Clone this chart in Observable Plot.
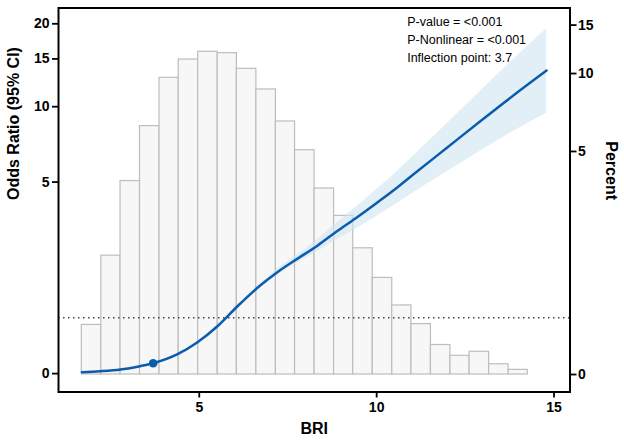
<!DOCTYPE html>
<html>
<head>
<meta charset="utf-8">
<script src="https://cdn.jsdelivr.net/npm/d3@7"></script>
<script src="https://cdn.jsdelivr.net/npm/@observablehq/plot@0.6"></script>
<style>
  html, body { margin: 0; padding: 0; background: white; }
  #chart { position: relative; width: 624px; height: 445px; }
  #chart svg { position: absolute; left: 0; top: 0; }
</style>
</head>
<body>
<div id="chart"></div>
<script>
// Histogram of BRI (bin edges) and percent of participants per bin
const briBinEdges = [1.69, 2.24, 2.78, 3.33, 3.88, 4.42, 4.97, 5.52, 6.06, 6.61, 7.16, 7.70, 8.25, 8.80, 9.34, 9.89, 10.44, 10.98, 11.53, 12.08, 12.62, 13.17, 13.72, 14.26];
const percent = [0.51, 1.64, 3.76, 6.31, 9.64, 11.26, 12.02, 11.88, 10.41, 8.72, 6.58, 5.06, 3.49, 2.62, 1.80, 1.21, 0.77, 0.52, 0.28, 0.17, 0.21, 0.09, 0.04];

// Restricted cubic spline: odds ratio with 95% CI
const briCurve = [1.69, 2.2, 2.78, 3.33, 3.7, 4.39, 4.95, 5.52, 6.07, 6.64, 7.2, 7.76, 8.33, 8.89, 9.46, 10.02, 10.58, 11.05, 11.99, 12.93, 13.87, 14.79];
const orFit  = [0.016, 0.028, 0.049, 0.089, 0.126, 0.244, 0.413, 0.668, 1.018, 1.406, 1.774, 2.126, 2.508, 2.982, 3.486, 4.066, 4.738, 5.410, 6.946, 8.820, 11.06, 13.61];
const orLow  = [0.011, 0.022, 0.043, 0.084, 0.126, 0.236, 0.402, 0.652, 0.999, 1.368, 1.695, 2.013, 2.329, 2.702, 3.086, 3.524, 4.024, 4.505, 5.542, 6.724, 8.068, 9.447];
const orHigh = [0.022, 0.034, 0.055, 0.094, 0.126, 0.251, 0.424, 0.684, 1.037, 1.440, 1.850, 2.239, 2.695, 3.282, 3.920, 4.667, 5.542, 6.449, 8.627, 11.446, 14.985, 19.20];

const inflection = {bri: 3.7, or: 0.126};
const refLine = 0.81;

const orTicks = [0, 5, 10, 15, 20];
const pctTicks = [0, 5, 10, 15];
const briTicks = [5, 10, 15];
const annotation = ["P-value = <0.001", "P-Nonlinear = <0.001", "Inflection point: 3.7"];

const bins = percent.map((p, i) => ({x1: briBinEdges[i], x2: briBinEdges[i + 1], pct: p}));
const curve = briCurve.map((b, i) => ({bri: b, or: orFit[i], lo: orLow[i], hi: orHigh[i]}));

const W = 624, H = 445;
const common = {
  width: W, height: H,
  marginLeft: 58, marginRight: 54.5, marginTop: 7.5, marginBottom: 53.5,
  style: {fontFamily: "'Liberation Sans', Arial, Helvetica, sans-serif", background: "transparent", overflow: "visible"}
};
const xDomain = [1.032, 15.45];
const blue = "#0b5cad";

// Layer 1: histogram with right "Percent" axis
const histPlot = Plot.plot({
  ...common,
  x: {domain: xDomain, axis: null},
  y: {type: "symlog", constant: 1.1, domain: [-0.158, 17.26]},
  marks: [
    Plot.rectY(bins, {x1: "x1", x2: "x2", y1: 0, y2: "pct", fill: "#f8f7f8", stroke: "#bdbdbd", strokeWidth: 1.2}),
    Plot.axisY({anchor: "right", ticks: pctTicks, tickFormat: d => String(d), tickSize: 6, tickPadding: 2,
      label: null, fontSize: 14, fontWeight: "bold", strokeWidth: 1.8}),
    Plot.text(["Percent"], {text: d => d, frameAnchor: "right", dx: 41.3, rotate: 90,
      fontSize: 16, fontWeight: "bold"})
  ]
});

// Layer 2: odds ratio curve with left axis
const orPlot = Plot.plot({
  ...common,
  x: {domain: xDomain},
  y: {type: "symlog", constant: 1.55, domain: [-0.230, 22.72]},
  marks: [
    Plot.areaY(curve, {x: "bri", y1: "lo", y2: "hi", fill: "#d0e4f2", fillOpacity: 0.6, curve: "monotone-x"}),
    Plot.ruleY([refLine], {stroke: "#444", strokeWidth: 1.3, strokeDasharray: "1.5,3.5"}),
    Plot.lineY(curve, {x: "bri", y: "or", stroke: blue, strokeWidth: 2.5, curve: "monotone-x"}),
    Plot.dot([inflection], {x: "bri", y: "or", r: 4.3, fill: blue}),
    Plot.frame({stroke: "black", strokeWidth: 2}),
    Plot.axisY({anchor: "left", ticks: orTicks, tickFormat: d => String(d), tickSize: 6, tickPadding: 3,
      label: null, fontSize: 14, fontWeight: "bold", strokeWidth: 1.8}),
    Plot.axisX({anchor: "bottom", ticks: briTicks, tickFormat: d => String(d), tickSize: 6, tickPadding: 4,
      label: null, fontSize: 14, fontWeight: "bold", strokeWidth: 1.8}),
    Plot.text(["Odds Ratio (95% CI)"], {text: d => d, frameAnchor: "left", dx: -45, rotate: -90,
      fontSize: 16, fontWeight: "bold"}),
    Plot.text(["BRI"], {text: d => d, frameAnchor: "bottom", dy: 41.5, fontSize: 16, fontWeight: "bold"}),
    Plot.text([annotation.join("\n")], {text: d => d, frameAnchor: "top-left", dx: 348.7, dy: 4.5,
      textAnchor: "start", lineAnchor: "top", lineHeight: 1.47, fontSize: 12.5, fontWeight: "normal"})
  ]
});

const chart = document.getElementById("chart");
chart.appendChild(histPlot);
chart.appendChild(orPlot);
</script>
</body>
</html>
